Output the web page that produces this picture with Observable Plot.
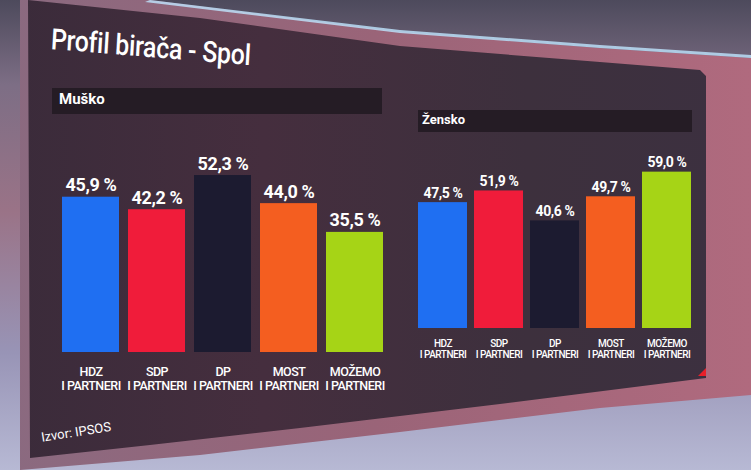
<!DOCTYPE html>
<html>
<head>
<meta charset="utf-8">
<script src="https://cdn.jsdelivr.net/npm/d3@7"></script>
<script src="https://cdn.jsdelivr.net/npm/@observablehq/plot@0.6"></script>
<style>
  html, body { margin: 0; padding: 0; }
  body {
    width: 751px; height: 470px; overflow: hidden; position: relative;
    font-family: Roboto, "Noto Sans", sans-serif;
    background: linear-gradient(to bottom, #4d4a5c 0%, #7d6e85 18%, #9a7387 45%, #9894b6 75%, #b7b9d4 100%);
  }
  #frame {
    position: absolute; left: 0; top: 0; width: 751px; height: 470px;
    background: linear-gradient(to right, #8a6a80 0%, #9a6478 50%, #b06a7e 100%);
    clip-path: polygon(20px 0, 150px 0, 400px 32px, 600px 48px, 751px 58px, 751px 395px, 600px 408px, 400px 432px, 200px 455px, 20px 470px);
  }
  #glow {
    position: absolute; left: 0; top: 0; width: 751px; height: 470px;
    background: #bfe6ff;
    clip-path: polygon(150px 0, 400px 30px, 600px 45px, 751px 55px, 751px 58px, 600px 48px, 400px 33px, 145px 2px);
    opacity: 0.8;
  }
  #panel {
    position: absolute; left: 0; top: 0; width: 751px; height: 470px;
    background: linear-gradient(to right, #3a2b3a 0%, #452e3e 35%, #3d303d 70%, #3c3040 100%);
    clip-path: polygon(28px 0, 200px 18px, 400px 46px, 600px 62px, 700px 70px, 706px 76px, 706px 378px, 500px 404px, 300px 428px, 150px 445px, 30px 458px);
  }
  #title {
    position: absolute; left: 52px; top: 22px; color: #fff;
    font-size: 29px; font-weight: 500; white-space: nowrap;
    transform-origin: left top; transform: scaleX(0.86) rotate(4deg);
    letter-spacing: -0.3px;
  }
  .hdr {
    position: absolute; background: #251c25; color: #fff; font-weight: 700;
    box-sizing: border-box;
  }
  #hdrL { left: 52px; top: 88px; width: 330px; height: 26px; font-size: 15px; padding: 2px 0 0 7px; }
  #hdrR { left: 418px; top: 110px; width: 274px; height: 22px; font-size: 13px; padding: 2px 0 0 4px; }
  .chart { position: absolute; }
  #chartL { left: 45px; top: 130px; }
  #chartR { left: 405px; top: 140px; }
  .chart svg g[aria-label="x-axis tick label"] text { letter-spacing: -0.5px; }
  .chart svg g[aria-label="text"] text { letter-spacing: -0.4px; }
  #source {
    position: absolute; left: 40px; top: 430px; color: #fff; font-size: 13px;
    transform-origin: left top; transform: rotate(-9deg); white-space: nowrap;
  }
  #corner {
    position: absolute; left: 698px; top: 368px; width: 8px; height: 8px; background: #e8202a;
    clip-path: polygon(100% 0, 100% 100%, 0 100%);
  }
</style>
</head>
<body>
<div id="frame"></div>
<div id="glow"></div>
<div id="panel"></div>
<div id="title">Profil birača - Spol</div>
<div class="hdr" id="hdrL">Muško</div>
<div class="hdr" id="hdrR">Žensko</div>
<div class="chart" id="chartL"></div>
<div class="chart" id="chartR"></div>
<div id="source">Izvor: IPSOS</div>
<div id="corner"></div>
<script>
const parties = ["HDZ", "SDP", "DP", "MOST", "MOŽEMO"];
const partyLabels = ["HDZ\nI PARTNERI", "SDP\nI PARTNERI", "DP\nI PARTNERI", "MOST\nI PARTNERI", "MOŽEMO\nI PARTNERI"];
const muskoValues = [45.9, 42.2, 52.3, 44.0, 35.5];
const zenskoValues = [47.5, 51.9, 40.6, 49.7, 59.0];
const partyColors = ["#1f6ff2", "#f01c3a", "#1c1b30", "#f45e20", "#a6d416"];

const fmt = v => v.toFixed(1).replace(".", ",") + " %";
const labelOf = p => partyLabels[parties.indexOf(p)];

function makeChart(values, o) {
  const data = parties.map((p, i) => ({party: p, value: values[i]}));
  return Plot.plot({
    width: o.width, height: o.height,
    marginTop: o.marginTop, marginBottom: o.marginBottom,
    marginLeft: o.marginLeft, marginRight: o.marginRight,
    style: {background: "transparent", color: "white", fontFamily: "Roboto, sans-serif"},
    x: {domain: parties, padding: 0.13},
    y: {domain: [0, 60], axis: null},
    color: {domain: parties, range: partyColors},
    marks: [
      Plot.barY(data, {x: "party", y: "value", fill: "party"}),
      Plot.text(data, {x: "party", y: "value", text: d => fmt(d.value), lineAnchor: "bottom", dy: o.valueDy,
        fill: "white", fontSize: o.valueSize, fontWeight: "bold"}),
      Plot.axisX({tickSize: 0, tickPadding: o.tickPadding, tickFormat: labelOf, fontSize: o.labelSize,
        fontWeight: 500, lineHeight: 1.15, label: null})
    ]
  });
}

document.getElementById("chartL").append(makeChart(muskoValues, {
  width: 355, height: 270, marginTop: 19, marginBottom: 48, marginLeft: 7, marginRight: 6,
  valueDy: -6, valueSize: 18, tickPadding: 13, labelSize: 12.5
}));
document.getElementById("chartR").append(makeChart(zenskoValues, {
  width: 300, height: 230, marginTop: 29, marginBottom: 42, marginLeft: 5, marginRight: 6,
  valueDy: -5, valueSize: 14, tickPadding: 10, labelSize: 10
}));
</script>
</body>
</html>
